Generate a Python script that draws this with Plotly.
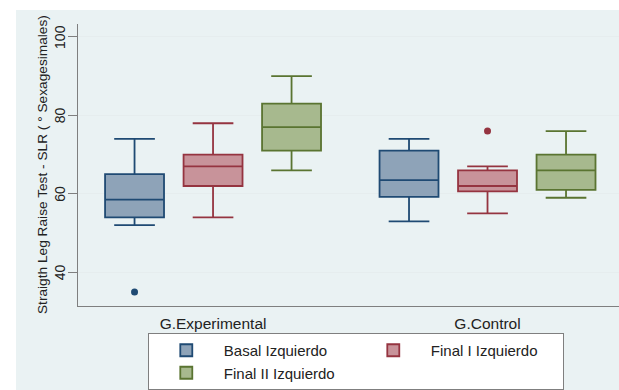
import plotly.graph_objects as go

# Groups and series
groups = ["G.Experimental", "G.Control"]
series = ["Basal Izquierdo", "Final I Izquierdo", "Final II Izquierdo"]

# Box statistics per series: [G.Experimental, G.Control]
lower_adj = {"Basal Izquierdo": [52, 53], "Final I Izquierdo": [54, 55], "Final II Izquierdo": [66, 59]}
q1_vals = {"Basal Izquierdo": [54, 59.2], "Final I Izquierdo": [62, 60.6], "Final II Izquierdo": [71, 61]}
medians = {"Basal Izquierdo": [58.5, 63.5], "Final I Izquierdo": [67, 62], "Final II Izquierdo": [77, 66]}
q3_vals = {"Basal Izquierdo": [65, 71], "Final I Izquierdo": [70, 66], "Final II Izquierdo": [83, 70]}
upper_adj = {"Basal Izquierdo": [74, 74], "Final I Izquierdo": [78, 67], "Final II Izquierdo": [90, 76]}

# Outside values: (series, group, value)
outlier_series = ["Basal Izquierdo", "Final I Izquierdo"]
outlier_groups = ["G.Experimental", "G.Control"]
outlier_values = [35, 76]

y_ticks = [40, 60, 80, 100]
y_title = "Straigth Leg Raise Test - SLR ( ° Sexagesimales)"

fill_colors = {"Basal Izquierdo": "#8ea3b8", "Final I Izquierdo": "#c8939a", "Final II Izquierdo": "#a7b98e"}
line_colors = {"Basal Izquierdo": "#1f4a73", "Final I Izquierdo": "#953440", "Final II Izquierdo": "#5a7431"}
text_color = "#222222"

fig = go.Figure()
for s in series:
    fig.add_trace(go.Box(
        name=s,
        x=groups,
        q1=q1_vals[s],
        median=medians[s],
        q3=q3_vals[s],
        lowerfence=lower_adj[s],
        upperfence=upper_adj[s],
        boxpoints=False,
        offsetgroup=s,
        whiskerwidth=0.69,
        fillcolor=fill_colors[s],
        line=dict(color=line_colors[s], width=1.8),
        hoverinfo="y",
    ))

# Outside values drawn as single points sharing each series' slot
for s, g, v in zip(outlier_series, outlier_groups, outlier_values):
    fig.add_trace(go.Box(
        name=s,
        x=[g],
        y=[v],
        offsetgroup=s,
        boxpoints="all",
        jitter=0,
        pointpos=0,
        fillcolor="rgba(0,0,0,0)",
        line=dict(color="rgba(0,0,0,0)", width=0),
        marker=dict(color=line_colors[s], size=7, line=dict(width=0)),
        showlegend=False,
        hoverinfo="y",
    ))

# Outer light-blue graph region (plot area stays white on top of it)
fig.add_shape(type="rect", xref="paper", yref="paper",
              x0=-0.1146, x1=1.1, y0=-0.35, y1=1.0495,
              fillcolor="#eaf2f3", line=dict(width=0), layer="below")

# Vertical y tick labels, placed on the y axis scale
for t in y_ticks:
    fig.add_annotation(
        text=str(t), xref="paper", yref="y", x=-0.0333, y=t,
        xanchor="center", yanchor="middle", textangle=-90,
        showarrow=False, font=dict(size=14, color=text_color),
    )

fig.add_annotation(
    text=y_title,
    xref="paper", yref="paper", x=-0.0665, y=0.5,
    xanchor="center", yanchor="middle", textangle=-90,
    showarrow=False, font=dict(size=13.7, color=text_color),
)

fig.update_layout(
    width=619, height=390,
    margin=dict(l=78, r=0, t=24, b=83),
    paper_bgcolor="white",
    plot_bgcolor="white",
    boxmode="group",
    boxgap=0.142,
    boxgroupgap=0.249,
    font=dict(family="Liberation Sans, Arial, sans-serif", size=14, color=text_color),
    showlegend=True,
    legend=dict(
        orientation="h",
        x=0.129, xanchor="left",
        y=-0.095, yanchor="top",
        bgcolor="white",
        bordercolor="#7f7f7f", borderwidth=1,
        entrywidth=127,
        itemwidth=65,
        font=dict(size=15, color=text_color),
        traceorder="normal",
    ),
)

fig.update_xaxes(
    range=[-0.492, 1.479],
    showline=True, linecolor="#7f7f7f", linewidth=1,
    showgrid=False, zeroline=False,
    ticks="outside", ticklen=3, tickcolor="rgba(0,0,0,0)",
    tickfont=dict(size=15.5, color=text_color),
)
fig.update_yaxes(
    range=[31.4, 103.3],
    tickvals=y_ticks,
    showticklabels=False,
    showline=True, linecolor="#7f7f7f", linewidth=1,
    showgrid=True, gridcolor="#e6edee", gridwidth=1,
    zeroline=False,
    ticks="outside", ticklen=9, tickcolor="#7f7f7f",
)

fig.write_html("out.html")
